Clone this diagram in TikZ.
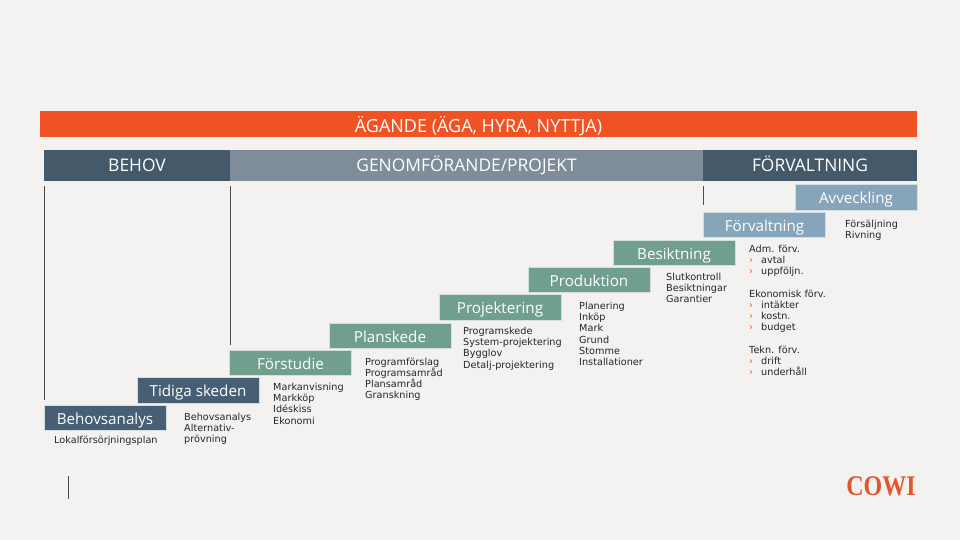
\documentclass[tikz,border=0pt]{standalone}
\usepackage{fontspec}
\setmainfont{Open Sans}
\newfontfamily\smallfont{DejaVu Sans}
\newfontfamily\logofont{Liberation Serif}
\definecolor{pagebg}{HTML}{F4F2F0}
\definecolor{cowired}{HTML}{F15223}
\definecolor{logored}{HTML}{E2552D}
\definecolor{headdark}{HTML}{44596A}
\definecolor{headmid}{HTML}{7F8C99}
\definecolor{stepdark}{HTML}{475F74}
\definecolor{stepgreen}{HTML}{709F8E}
\definecolor{stepblue}{HTML}{86A4BA}
\definecolor{stepedge}{HTML}{D5DEDF}
\newcommand{\bul}{{\color{cowired}\makebox[12pt][l]{›}}}
\tikzset{
  band/.style={minimum height=26pt,inner sep=0pt,text=white,text height=12pt,text depth=0pt,font=\fontsize{17.4}{20}\selectfont},
  stepbox/.style={draw=stepedge,line width=.6pt,minimum width=122pt,minimum height=25.5pt,inner sep=0pt,text=white,text height=12pt,text depth=0pt,font=\fontsize{15.2}{18}\selectfont},
  notes/.style={anchor=north west,align=left,inner sep=0pt,text=black!85,font=\smallfont\fontsize{9.7}{11.2}\selectfont},
  tick/.style={line width=.7pt,draw=black!70}
}
\begin{document}
\begin{tikzpicture}[x=1pt,y=-1pt]

\fill[pagebg] (0,0) rectangle (960,540);
\useasboundingbox (0,0) rectangle (960,540);

% top bands
\node[band,fill=cowired,minimum width=877pt,text height=17pt,font=\fontsize{18}{20}\selectfont] (AGANDE) at (478.5,124) {ÄGANDE (ÄGA, HYRA, NYTTJA)};
\node[band,fill=headdark,minimum width=186pt,minimum height=31pt] (BEHOV) at (137,165.5) {BEHOV};
\node[band,fill=headmid,minimum width=473pt,minimum height=31pt] (GENOM) at (466.5,165.5) {GENOMFÖRANDE/PROJEKT};
\node[band,fill=headdark,minimum width=214pt,minimum height=31pt] (FORV) at (810,165.5) {FÖRVALTNING};

% steps
\node[stepbox,fill=stepdark] (BA) at (105,418) {Behovsanalys};
\node[stepbox,fill=stepdark] (TS) at (198,390.5) {Tidiga skeden};
\node[stepbox,fill=stepgreen] (FS) at (290.5,363) {Förstudie};
\node[stepbox,fill=stepgreen] (PS) at (390,336) {Planskede};
\node[stepbox,fill=stepgreen] (PJ) at (500,307.5) {Projektering};
\node[stepbox,fill=stepgreen] (PD) at (589,280) {Produktion};
\node[stepbox,fill=stepgreen] (BE) at (674,253) {Besiktning};
\node[stepbox,fill=stepblue] (FV) at (764.5,225) {Förvaltning};
\node[stepbox,fill=stepblue] (AV) at (856,197.5) {Avveckling};

% notes
\node[notes] (nBA) at (54,436) {Lokalförsörjningsplan};
\node[notes] (nTS) at (184,413) {Behovsanalys\\Alternativ-\\prövning};
\node[notes] (nFS) at (273,383) {Markanvisning\\Markköp\\Idéskiss\\Ekonomi};
\node[notes] (nPS) at (365,357.5) {Programförslag\\Programsamråd\\Plansamråd\\Granskning};
\node[notes] (nPJ) at (463,327) {Programskede\\System-projektering\\Bygglov\\Detalj-projektering};
\node[notes] (nPD) at (579,302) {Planering\\Inköp\\Mark\\Grund\\Stomme\\Installationer};
\node[notes] (nBE) at (666,273) {Slutkontroll\\Besiktningar\\Garantier};
\node[notes] (nFV) at (749,245) {Adm. förv.\\\bul avtal\\\bul uppföljn.\\[11.2pt]Ekonomisk förv.\\\bul intäkter\\\bul kostn.\\\bul budget\\[11.2pt]Tekn. förv.\\\bul drift\\\bul underhåll};
\node[notes] (nAV) at (845,220) {Försäljning\\Rivning};

% ticks
\coordinate (a1) at (44,186);
\coordinate (a2) at (44,400);
\coordinate (b1) at (230,186);
\coordinate (b2) at (230,345);
\coordinate (c1) at (703,186);
\coordinate (c2) at (703,205);
\coordinate (d1) at (68,476);
\coordinate (d2) at (68,499);
\draw[tick] (a1) -- (a2);
\draw[tick] (b1) -- (b2);
\draw[tick] (c1) -- (c2);
\draw[tick] (d1) -- (d2);

% logo
\node[inner sep=0pt,text=logored] (LOGO) at (881,486) {\scalebox{.84}[1]{\logofont\bfseries\fontsize{28.5}{28}\selectfont COWI}};

\end{tikzpicture}
\end{document}
